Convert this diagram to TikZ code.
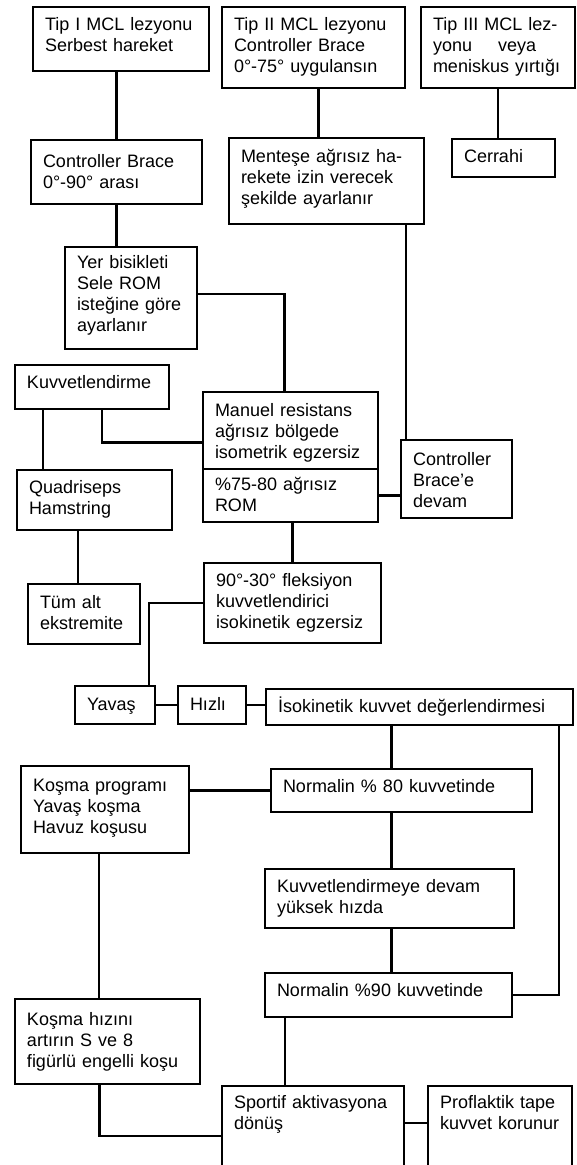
\documentclass[tikz,border=0pt]{standalone}
\usepackage{fontspec}
\setmainfont{Liberation Sans}
\usetikzlibrary{calc}
\hyphenpenalty=10000

\begin{document}
\begin{tikzpicture}[x=1pt, y=-1pt, line width=2.2pt, font=\fontsize{18}{21}\selectfont,
	   box/.style={draw, anchor=north west, align=left, inner xsep=12pt, inner ysep=0pt, outer sep=0pt, text height=23pt}]
	  \clip (0,0) rectangle (576,1165);
	  \node[box, text width=152pt, text depth=41pt] (tipi) at (33,7) {Tip I MCL lezyonu\\Serbest hareket};
	  \node[box, text width=159pt, text depth=58pt] (tipii) at (222,7) {Tip II MCL lezyonu\\Controller Brace\\0°-75° uygulansın};
	  \node[box, text width=130pt, text depth=58pt] (tipiii) at (421,7) {Tip III MCL lez-\\yonu\hspace{26pt}veya\\meniskus yırtığı};
	  \node[box, text width=147pt, text height=27pt, text depth=37pt] (cb) at (31,140) {Controller Brace\\0°-90° arası};
	  \node[box, text width=171pt, text height=24pt, text depth=62pt] (mentese) at (229,138) {Menteşe ağrısız ha-\\rekete izin verecek\\şekilde ayarlanır};
	  \node[box, text width=79pt, text depth=15pt] (cerrahi) at (452,139) {Cerrahi};
	  \node[box, text width=108pt, text height=21pt, text depth=81pt] (yer) at (65,247) {Yer bisikleti\\Sele ROM\\isteğine göre\\ayarlanır};
	  \node[box, text width=130pt, text depth=21pt] (kuv) at (15,365) {Kuvvetlendirme};
	  \node[box, text width=151pt, text height=24pt, text depth=53pt] (manuel) at (203,392) {Manuel resistans\\ağrısız bölgede\\isometrik egzersiz};
	  \node[box, text width=151pt, text height=21pt, text depth=32pt] (rom) at (203,469) {\%75-80 ağrısız\\ROM};
	  \node[box, text width=131pt, text depth=37pt] (quad) at (17,470) {Quadriseps\\Hamstring};
	  \node[box, text width=87pt, text height=25pt, text depth=53pt] (cbd) at (401,440) {Controller\\Brace'e\\devam};
	  \node[box, text width=88pt, text height=24pt, text depth=36pt] (tum) at (28,584) {Tüm alt\\ekstremite};
	  \node[box, text width=153pt, text depth=57pt] (flex) at (204,563) {90°-30° fleksiyon\\kuvvetlendirici\\isokinetik egzersiz};
	  \node[box, text width=56pt, text height=24pt, text depth=14pt] (yavas) at (75,686) {Yavaş};
	  \node[box, text width=44pt, text height=24pt, text depth=14pt] (hizli) at (178,686) {Hızlı};
	  \node[box, text width=283pt, text depth=13pt] (iso) at (266,689) {İsokinetik kuvvet değerlendirmesi};
	  \node[box, text width=237pt, text depth=20pt] (n80) at (271,769) {Normalin \% 80 kuvvetinde};
	  \node[box, text width=144pt, text height=25pt, text depth=62pt] (kos) at (21,766) {Koşma programı\\Yavaş koşma\\Havuz koşusu};
	  \node[box, text width=225pt, text depth=36pt] (kuvd) at (265,869) {Kuvvetlendirmeye devam\\yüksek hızda};
	  \node[box, text width=223pt, text depth=21pt] (n90) at (265,973) {Normalin \%90 kuvvetinde};
	  \node[box, text width=161pt, text height=26pt, text depth=59pt] (kosh) at (15,999) {Koşma hızını\\artırın S ve 8\\figürlü engelli koşu};
	  \node[box, text width=158pt, text height=22pt, text depth=78pt] (sportif) at (222,1086) {Sportif aktivasyona\\dönüş};
	  \node[box, text width=120pt, text height=22pt, text depth=78pt] (prof) at (428,1086) {Proflaktik tape\\kuvvet korunur};
	  \draw (cb.north |- tipi.south) -- (cb.north); \draw ([xshift=5pt]tipii.south) -- ([xshift=5pt]tipii.south |- mentese.north); \draw (tipiii.south) -- (tipiii.south |- cerrahi.north);
	  \draw ([xshift=-18pt]mentese.south east) -- ([xshift=-18pt]mentese.south east |- cbd.north); \draw (cb.south) -- (cb.south |- yer.north);
	  \draw ([yshift=4pt]yer.east) -| ([xshift=-6pt]manuel.north); \draw ([xshift=10pt]kuv.south) |- ([yshift=-12pt]manuel.west);
	  \draw ([xshift=28pt]kuv.south west) -- ([xshift=28pt]kuv.south west |- quad.north); \draw ([xshift=-6pt]tum.north) -- ([xshift=-6pt]tum.north |- quad.south);
	  \draw (rom.east) -- (rom.east -| cbd.west); \draw (flex.north) -- (flex.north |- rom.south); \draw (flex.west) -| ([xshift=-6pt]yavas.north east);
	  \draw (yavas.east) -- (hizli.west); \draw (hizli.east) -- (hizli.east -| iso.west); \draw ([xshift=-10pt]n80.north) -- ([xshift=-10pt]n80.north |- iso.south);
	  \draw ([xshift=-14pt]iso.south east) |- (n90.east); \draw (n80.west) -- (n80.west -| kos.east);
	  \draw ([xshift=-10pt]n80.south) -- ([xshift=-10pt]n80.south |- kuvd.north); \draw ([xshift=-10pt]n80.south |- kuvd.south) -- ([xshift=-10pt]n80.south |- n90.north);
	  \draw ([xshift=20pt]n90.south west) -- ([xshift=20pt]n90.south west |- sportif.north); \draw ([xshift=-6pt]kos.south) -- ([xshift=-6pt]kos.south |- kosh.north);
	  \draw ([xshift=-8pt]kosh.south) |- ([yshift=-50pt]sportif.north west); \draw ([yshift=-37pt]sportif.north east) -- ([yshift=-37pt]sportif.north east -| prof.west);
	\end{tikzpicture}
\end{document}
